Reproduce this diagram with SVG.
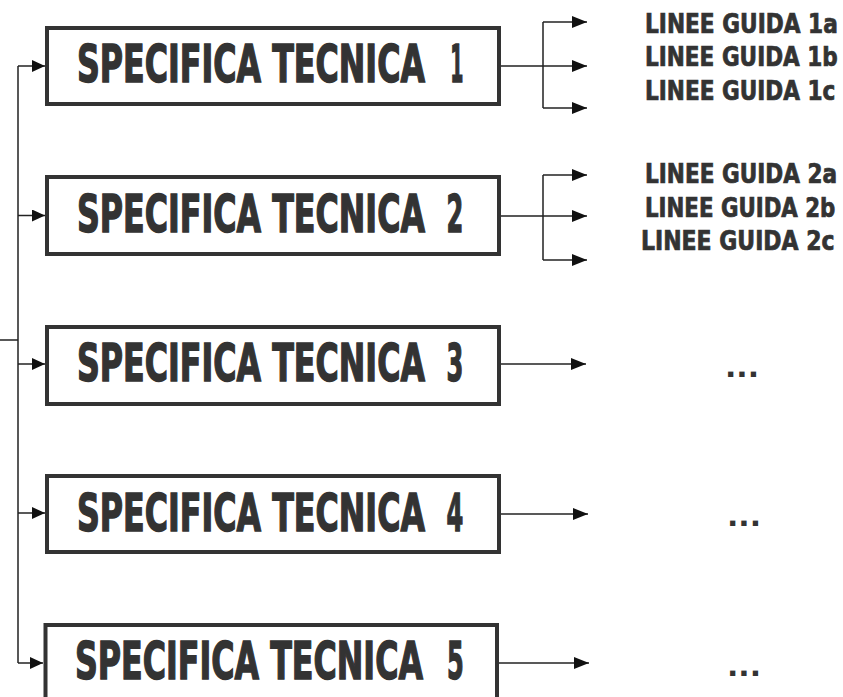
<svg xmlns="http://www.w3.org/2000/svg" width="843" height="697" viewBox="0 0 843 697">
<defs>
<marker id="ahL" markerWidth="13" markerHeight="12" refX="13" refY="6" orient="auto" markerUnits="userSpaceOnUse"><path d="M0,0 L13,6 L0,12 Z" fill="#111"/></marker>
<marker id="ahR" markerWidth="15" markerHeight="12" refX="15" refY="6" orient="auto" markerUnits="userSpaceOnUse"><path d="M0,0 L15,6 L0,12 Z" fill="#111"/></marker>
</defs>
<style>
.box{fill:#fff;stroke:#333;stroke-width:4}
.big{font-family:"DejaVu Sans Condensed","DejaVu Sans",sans-serif;font-weight:bold;font-size:51px;fill:#333;stroke:#333;stroke-width:1.4}
.small{font-family:"DejaVu Sans Condensed","DejaVu Sans",sans-serif;font-weight:bold;font-size:26px;fill:#333;stroke:#333;stroke-width:0.7}
.dots{font-family:"DejaVu Sans",sans-serif;font-weight:bold;font-size:28px;fill:#333}
.ln{fill:none;stroke:#222;stroke-width:1.5}
.la{fill:none;stroke:#222;stroke-width:1.5;marker-end:url(#ahL)}
.ra{fill:none;stroke:#222;stroke-width:1.5;marker-end:url(#ahR)}
</style>
<rect width="843" height="697" fill="#fff"/>
<g id="connectors">
<path class="ln" d="M18,66 V663 M0,340 H18"/>
<path class="la" d="M18,66 H45"/>
<path class="la" d="M18,215.5 H45"/>
<path class="la" d="M18,364 H45"/>
<path class="la" d="M18,513 H45"/>
<path class="la" d="M18,663 H43"/>
<path class="ln" d="M501,66 H543 M543,22 V108"/>
<path class="ra" d="M543,22 H587"/>
<path class="ra" d="M543,66 H587"/>
<path class="ra" d="M543,108 H587"/>
<path class="ln" d="M501,216 H543 M543,175 V260"/>
<path class="ra" d="M543,175 H587"/>
<path class="ra" d="M543,216 H587"/>
<path class="ra" d="M543,260 H587"/>
<path class="ra" d="M501,364 H586"/>
<path class="ra" d="M501,514 H588"/>
<path class="ra" d="M499,663 H589"/>
</g>
<g id="st1"><rect class="box" x="47" y="28" width="452" height="76"/><text class="big" transform="translate(77,82) scale(0.6,1)"><tspan x="0" textLength="580" lengthAdjust="spacingAndGlyphs">SPECIFICA TECNICA</tspan> <tspan x="622" textLength="22" lengthAdjust="spacingAndGlyphs">1</tspan></text></g>
<g id="st2"><rect class="box" x="47" y="177" width="452" height="77"/><text class="big" transform="translate(77,232) scale(0.6,1)"><tspan x="0" textLength="580" lengthAdjust="spacingAndGlyphs">SPECIFICA TECNICA</tspan> <tspan x="616" textLength="28" lengthAdjust="spacingAndGlyphs">2</tspan></text></g>
<g id="st3"><rect class="box" x="47" y="327" width="452" height="77"/><text class="big" transform="translate(77,381) scale(0.6,1)"><tspan x="0" textLength="580" lengthAdjust="spacingAndGlyphs">SPECIFICA TECNICA</tspan> <tspan x="616" textLength="28" lengthAdjust="spacingAndGlyphs">3</tspan></text></g>
<g id="st4"><rect class="box" x="47" y="476" width="452" height="76"/><text class="big" transform="translate(77,531) scale(0.6,1)"><tspan x="0" textLength="580" lengthAdjust="spacingAndGlyphs">SPECIFICA TECNICA</tspan> <tspan x="616" textLength="28" lengthAdjust="spacingAndGlyphs">4</tspan></text></g>
<g id="st5"><rect class="box" x="45.5" y="625" width="451.5" height="90"/><text class="big" transform="translate(75,679) scale(0.6,1)"><tspan x="0" textLength="580" lengthAdjust="spacingAndGlyphs">SPECIFICA TECNICA</tspan> <tspan x="620" textLength="28" lengthAdjust="spacingAndGlyphs">5</tspan></text></g>
<g id="lg1a"><text class="small" transform="translate(645,33) scale(0.8,1)" textLength="241" lengthAdjust="spacingAndGlyphs">LINEE GUIDA 1a</text></g>
<g id="lg1b"><text class="small" transform="translate(645,66) scale(0.8,1)" textLength="241" lengthAdjust="spacingAndGlyphs">LINEE GUIDA 1b</text></g>
<g id="lg1c"><text class="small" transform="translate(645,100) scale(0.8,1)" textLength="238" lengthAdjust="spacingAndGlyphs">LINEE GUIDA 1c</text></g>
<g id="lg2a"><text class="small" transform="translate(645,183) scale(0.8,1)" textLength="240" lengthAdjust="spacingAndGlyphs">LINEE GUIDA 2a</text></g>
<g id="lg2b"><text class="small" transform="translate(645,217) scale(0.8,1)" textLength="238" lengthAdjust="spacingAndGlyphs">LINEE GUIDA 2b</text></g>
<g id="lg2c"><text class="small" transform="translate(641,250) scale(0.8,1)" textLength="242" lengthAdjust="spacingAndGlyphs">LINEE GUIDA  2c</text></g>
<g id="d3"><text class="dots" x="725" y="377" textLength="34" lengthAdjust="spacingAndGlyphs">...</text></g>
<g id="d4"><text class="dots" x="727" y="526" textLength="34" lengthAdjust="spacingAndGlyphs">...</text></g>
<g id="d5"><text class="dots" x="727" y="676" textLength="34" lengthAdjust="spacingAndGlyphs">...</text></g>
</svg>
